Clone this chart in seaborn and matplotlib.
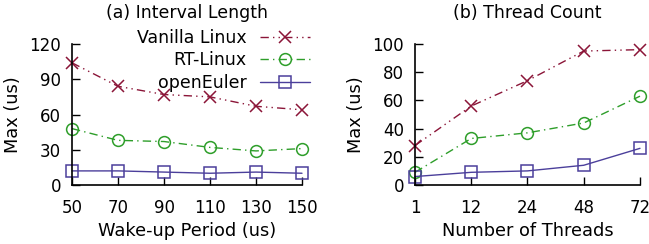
import matplotlib
matplotlib.use("Agg")
import matplotlib.pyplot as plt
import seaborn as sns

sns.set_theme(style="ticks")
plt.rcParams['font.family'] = ['DejaVu Sans']
plt.rcParams.update({"text.color": "black", "axes.labelcolor": "black",
                     "axes.edgecolor": "black", "xtick.color": "black",
                     "ytick.color": "black"})

series = ["Vanilla Linux", "RT-Linux", "openEuler"]

period = [50, 70, 90, 110, 130, 150]
vanilla_a = [104, 84, 77, 75, 67, 64]
rt_a = [48, 38, 37, 32, 29, 31]
euler_a = [12, 12, 11, 10, 11, 10]

threads = ["1", "12", "24", "48", "72"]
vanilla_b = [28, 56, 74, 95, 96]
rt_b = [9, 33, 37, 44, 63]
euler_b = [6, 9, 10, 14, 26]

colors = {"Vanilla Linux": "#8b1538", "RT-Linux": "#2e9e2a", "openEuler": "#4b3f9b"}
markers = {"Vanilla Linux": "x", "RT-Linux": "o", "openEuler": "s"}
dashes = {"Vanilla Linux": (6, 3, 1, 3, 1, 3), "RT-Linux": (6, 3, 1, 3), "openEuler": None}

fig = plt.figure(figsize=(6.49, 2.44), dpi=100)
ax1 = fig.add_axes([72/649, 1 - 185/244, 230/649, 141/244])
ax2 = fig.add_axes([415/649, 1 - 185/244, 225/649, 141/244])

FS = 12.8
TFS = 12
data_a = [vanilla_a, rt_a, euler_a]
data_b = [vanilla_b, rt_b, euler_b]
xb = list(range(len(threads)))

handles = []
for ax, xs, ys_list in [(ax1, period, data_a), (ax2, xb, data_b)]:
    for name, ys in zip(series, ys_list):
        c = colors[name]
        kw = dict(marker=markers[name], markersize=8.5, markeredgewidth=1.1,
                  markeredgecolor=c, linewidth=1.0, color=c, clip_on=False)
        if markers[name] != "x":
            kw["markerfacecolor"] = "none"
        sns.lineplot(x=xs, y=ys, ax=ax, **kw)
        line = ax.lines[-1]
        if dashes[name] is not None:
            line.set_dashes(dashes[name])
        if ax is ax1:
            handles.append((line, name))
    sns.despine(ax=ax)
    ax.tick_params(axis="x", direction="in", length=6, width=1.0, labelsize=TFS, pad=10)
    ax.tick_params(axis="y", direction="in", length=6, width=1.0, labelsize=TFS, pad=8)
    for sp in ["left", "bottom"]:
        ax.spines[sp].set_linewidth(1.2)
    ax.set_ylabel("Max (us)", fontsize=FS, labelpad=5)

ax1.set_xlim(50, 150)
ax1.set_ylim(0, 120)
ax1.set_xticks(period)
ax1.set_yticks([0, 30, 60, 90, 120])
ax1.set_xlabel("Wake-up Period (us)", fontsize=FS, labelpad=4)
ax1.set_title("(a) Interval Length", fontsize=12.5, pad=19)

ax2.set_xlim(0, len(threads) - 1)
ax2.set_ylim(0, 100)
ax2.set_xticks(xb)
ax2.set_xticklabels(threads)
ax2.set_yticks([0, 20, 40, 60, 80, 100])
ax2.set_xlabel("Number of Threads", fontsize=FS, labelpad=4)
ax2.set_title("(b) Thread Count", fontsize=12.5, pad=19)

leg = fig.legend([h for h, _ in handles], [n for _, n in handles],
                 loc="upper right", bbox_to_anchor=(310/649, 1 - 29/244),
                 bbox_transform=fig.transFigure, frameon=False,
                 fontsize=12.5, markerfirst=False, handlelength=2.9,
                 labelspacing=0.25, borderaxespad=0, borderpad=0,
                 handletextpad=0.75)
for h in leg.legend_handles:
    h.set_markersize(8.5)

fig.savefig("out.png", dpi=100)
